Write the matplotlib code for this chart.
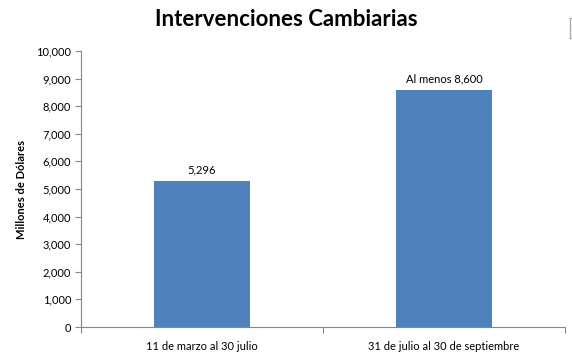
import matplotlib
matplotlib.use("Agg")
import matplotlib.pyplot as plt
from matplotlib.ticker import FuncFormatter, FixedLocator

categories = ["11 de marzo al 30 julio", "31 de julio al 30 de septiembre"]
values = [5296, 8600]
bar_labels = ["5,296", "Al menos 8,600"]
title = "Intervenciones Cambiarias"
ylabel = "Millones de Dólares"

plt.rcParams['font.family'] = ['Lato', 'DejaVu Sans']

fig = plt.figure(figsize=(5.72, 3.54), dpi=100)
ax = fig.add_axes([81/572, 1-327/354, 484/572, 276/354])

x = list(range(len(categories)))
bars = ax.bar(x, values, width=0.4, color="#4f81bd", zorder=2)
ax.set_xlim(-0.5, len(categories) - 0.5)
ax.set_ylim(0, 10000)
ax.set_yticks(range(0, 10001, 1000))
ax.yaxis.set_major_formatter(FuncFormatter(lambda v, p: f"{int(v):,}"))
ax.set_xticks(x)
ax.set_xticklabels(categories, fontsize=8)
ax.xaxis.set_minor_locator(FixedLocator([-0.5, 0.5, 1.5]))
ax.tick_params(axis='x', which='major', length=0, pad=10)
ax.tick_params(axis='x', which='minor', length=4, color="#868686", width=0.8)
ax.tick_params(axis='y', length=4, color="#868686", width=0.8, labelsize=8, pad=3)

for s in ["top", "right"]:
    ax.spines[s].set_visible(False)
for s in ["left", "bottom"]:
    ax.spines[s].set_color("#868686")
    ax.spines[s].set_linewidth(0.8)

for b, lab in zip(bars, bar_labels):
    ax.annotate(lab, (b.get_x() + b.get_width()/2, b.get_height()),
                xytext=(0, 4), textcoords="offset points",
                ha="center", va="bottom", fontsize=8)

ax.set_ylabel(ylabel, fontsize=8, fontweight="bold", labelpad=7)
fig.text(0.5, 1-20/354, title, ha="center", va="center",
         fontsize=16, fontweight="bold")

# small grey bracket artifact at top-right
fig.add_artist(plt.Line2D([570/572, 570/572], [1-18/354, 1-38/354],
                          color="#aaaaaa", lw=1, transform=fig.transFigure))
fig.add_artist(plt.Line2D([570/572, 572/572], [1-18/354, 1-18/354],
                          color="#aaaaaa", lw=1, transform=fig.transFigure))
fig.add_artist(plt.Line2D([570/572, 572/572], [1-38/354, 1-38/354],
                          color="#aaaaaa", lw=1, transform=fig.transFigure))

fig.savefig("out.png", dpi=100)
